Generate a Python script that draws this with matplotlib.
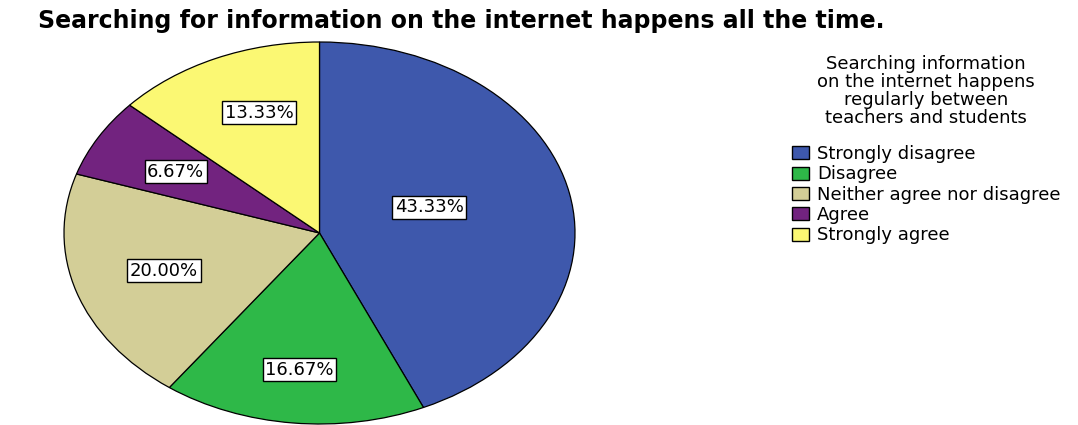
import matplotlib.pyplot as plt
import numpy as np

categories = ["Strongly disagree", "Disagree", "Neither agree nor disagree",
              "Agree", "Strongly agree"]
percents = [43.33, 16.67, 20.00, 6.67, 13.33]
colors = ["#3E58AC", "#2EB848", "#D3CE97", "#72237F", "#FBF873"]

# how far out each percentage box sits (x and y radius fractions)
label_dist = [(0.44, 0.65), (0.75, 0.72), (0.64, 0.64), (0.65, 0.64), (0.58, 0.69)]

W, H = 1078, 425
fig = plt.figure(figsize=(W / 100, H / 100), dpi=100)
ax = fig.add_axes([64 / W, 1 / H, 511 / W, 382 / H])

wedges, _ = ax.pie(percents, colors=colors, startangle=90, counterclock=False,
                   wedgeprops=dict(edgecolor="black", linewidth=0.9))
ax.set_aspect("auto")
ax.set_xlim(-1, 1)
ax.set_ylim(-1, 1)
ax.axis("off")

for w, p, (rx, ry) in zip(wedges, percents, label_dist):
    w.set_clip_on(False)
    mid = np.deg2rad((w.theta1 + w.theta2) / 2)
    ax.text(rx * np.cos(mid), ry * np.sin(mid), "%.2f%%" % p,
            ha="center", va="center", fontsize=13, family="DejaVu Sans",
            bbox=dict(boxstyle="square,pad=0.14", fc="white", ec="black", lw=1))

fig.text(38 / W, 1 - 21 / H, "Searching for information on the internet happens all the time.",
         fontsize=17, fontweight="bold", family="DejaVu Sans", va="center", ha="left")

leg = fig.legend(wedges, categories, loc="upper center",
                 bbox_to_anchor=(926 / W, 1 - 46 / H),
                 title="Searching information\non the internet happens\nregularly between\nteachers and students",
                 frameon=False, prop=dict(family="DejaVu Sans", size=13),
                 title_fontproperties=dict(family="DejaVu Sans", size=13),
                 handlelength=0.95, handleheight=0.75, handletextpad=0.45,
                 labelspacing=0.13, borderpad=0, alignment="center")
leg.get_title().set_linespacing(1.0)
leg.get_title().set_multialignment("center")
for h in leg.legend_handles:
    h.set_edgecolor("black")
    h.set_linewidth(1)
leg._legend_box.sep = 13

fig.savefig("out.png", dpi=100, facecolor="white")
